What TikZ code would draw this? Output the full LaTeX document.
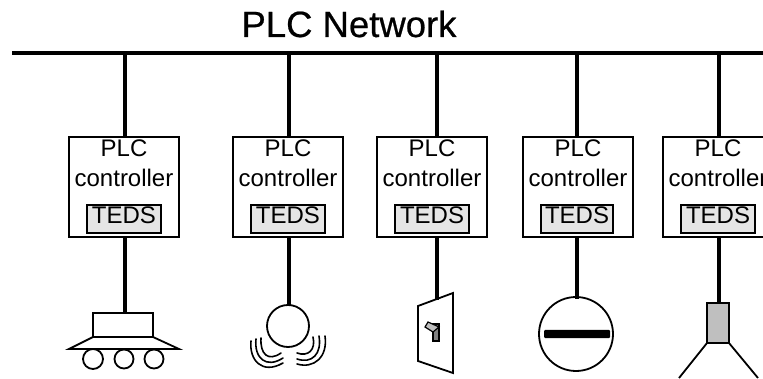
\documentclass[tikz,border=0pt]{standalone}
\usepackage{fontspec}
\setmainfont{Liberation Sans}
\newfontfamily\titlefont[FakeBold=0.6]{Liberation Sans}
\tikzset{
  bus/.style={line width=4pt,line cap=butt},
  link/.style={line width=4pt,line cap=butt},
  thin shape/.style={line width=1.8pt,line join=miter},
  wave/.style={line width=1.6pt,line cap=round},
  plcbox/.style={draw,line width=1.6pt,minimum width=110pt,minimum height=100pt,inner sep=0pt,fill=white},
  tedsbox/.style={draw,line width=1.6pt,fill=black!10,minimum height=28pt,inner sep=0pt},
  boxtext/.style={inner sep=0pt,anchor=base,font=\fontsize{24}{24}\selectfont},
  titletext/.style={inner sep=0pt,anchor=base,font=\titlefont\fontsize{36.5}{36.5}\selectfont}
}
\begin{document}
\begin{tikzpicture}[x=1pt,y=-1pt]
\useasboundingbox (0,0) rectangle (763,379);
\clip (0,0) rectangle (763,379);
\node[titletext] (title) at (349,37) {PLC Network};
\coordinate (busL) at (12,53);
\coordinate (busR) at (763,53);
\draw[bus] (busL) -- (busR);
% taps on the bus and device ends
\coordinate (t1) at (125,53); \coordinate (d1) at (125,313);
\coordinate (t2) at (289,53); \coordinate (d2) at (289,305);
\coordinate (t3) at (437,53); \coordinate (d3) at (437,300);
\coordinate (t4) at (577,53); \coordinate (d4) at (577,299);
\coordinate (t5) at (719,53); \coordinate (d5) at (719,303);
\foreach \n/\cx/\tx/\tw in {1/124/124/74,2/288/288/74,3/432/432/74,4/578/577/72,5/718/718/74}{
  \draw[link] (t\n) -- (d\n);
  \node[plcbox] (b\n) at (\cx,187) {};
  \node[tedsbox,minimum width=\tw pt] (s\n) at (\tx,219) {};
  \node[boxtext] (p\n) at (\cx,157) {PLC};
  \node[boxtext] (c\n) at (\cx,187) {controller};
  \node[boxtext] (e\n) at (\tx,224) {TEDS};
}
% device 1: vehicle
\draw[thin shape] (93,313) rectangle (153,337);
\draw[thin shape] (93,337) -- (153,337) -- (179,349) -- (69,349) -- cycle;
\draw[thin shape] (93,359) circle (10);
\draw[thin shape] (124,359) circle (9.5);
\draw[thin shape] (154,359) circle (9.5);
% device 2: vibrating ball
\draw[thin shape] (288,326) circle (21);
\draw[wave] (251,341) .. controls (249,360) and (262,375) .. (283,363);
\draw[wave] (256,339) .. controls (254,358) and (266,369) .. (283,358);
\draw[wave] (261,338) .. controls (260,354) and (268,362) .. (281,353);
\draw[wave] (313,337) .. controls (316,350) and (308,357) .. (297,353);
\draw[wave] (319,336) .. controls (322,354) and (312,364) .. (297,359);
\draw[wave] (325,336) .. controls (328,357) and (314,369) .. (297,364);
% device 3: wall switch
\draw[thin shape] (418,306) -- (453,293) -- (453,373) -- (418,361) -- cycle;
\draw[line width=1.2pt,fill=black!50] (433,324) rectangle (439,341);
\draw[line width=1.2pt,fill=black!25] (425,327) -- (428,322) -- (439,327) -- (433,332) -- cycle;
% device 4: valve
\draw[thin shape] (576,334) circle (37);
\draw[fill=black,rounded corners=1pt,draw=none] (544,330) rectangle (610,338);
% device 5: nozzle
\draw[thin shape,fill=black!25] (707,303) rectangle (729,343);
\draw[thin shape] (707,343) -- (679,378);
\draw[thin shape] (729,343) -- (758,378);
\draw[link] (719,290) -- (d5);
\end{tikzpicture}
\end{document}
